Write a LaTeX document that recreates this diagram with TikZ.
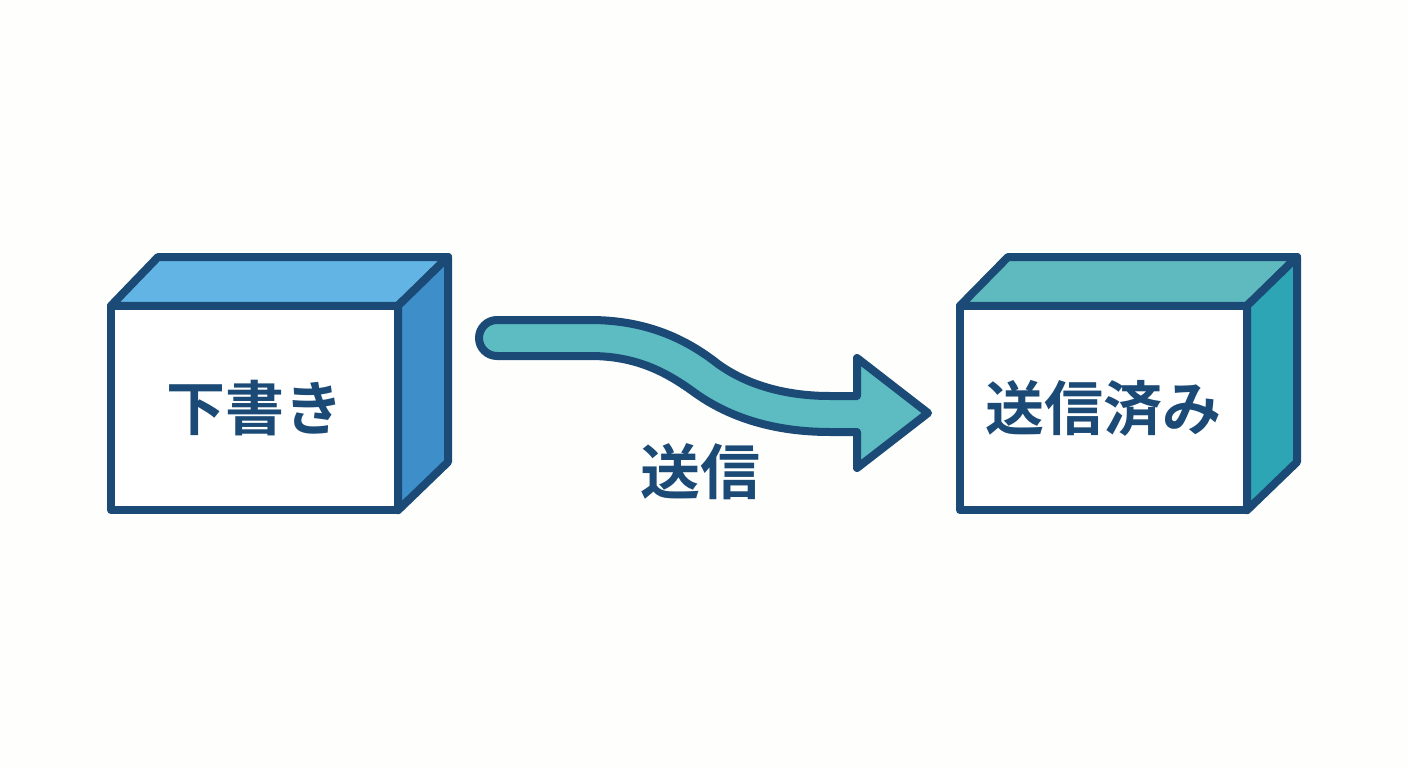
\documentclass[tikz,border=0pt]{standalone}
\usepackage{fontspec}
\newfontfamily\jp{Noto Sans CJK JP Bold}
\definecolor{bgc}{HTML}{FEFEFC}
\definecolor{ink}{HTML}{1A4A75}
\definecolor{bluetop}{HTML}{62B4E4}
\definecolor{blueside}{HTML}{3D8EC9}
\definecolor{tealtop}{HTML}{5FBABF}
\definecolor{tealside}{HTML}{2EA5B5}
\definecolor{arrowfill}{HTML}{5CBCC2}
\tikzset{
  face/.style={draw=ink,line width=8pt,line join=round},
  frontface/.style={face,fill=white,text=ink,inner sep=0pt,outer sep=0pt,minimum height=204.5pt,
     font=\jp\fontsize{59}{60}\selectfont},
  tag/.style={text=ink,inner sep=0pt,font=\jp\fontsize{60}{60}\selectfont}
}
\begin{document}
\begin{tikzpicture}[x=1pt,y=-1pt]
\fill[bgc] (0,0) rectangle (1408,768);
\useasboundingbox (0,0) rectangle (1408,768);
% left box
\node[frontface,minimum width=287pt] (draft) at (254.5,408) {\raisebox{1.5pt}{下書き}};
\draw[face,fill=bluetop] (draft.north west) -- (158,257) -- (448,257) -- (draft.north east) -- cycle;
\draw[face,fill=blueside] (draft.north east) -- (448,257) -- (448,462) -- (draft.south east) -- cycle;
% right box
\node[frontface,minimum width=287pt] (sent) at (1103.5,408) {\raisebox{1pt}{送信済み}};
\draw[face,fill=tealtop] (sent.north west) -- (1008,257) -- (1297,257) -- (sent.north east) -- cycle;
\draw[face,fill=tealside] (sent.north east) -- (1297,257) -- (1297,462) -- (sent.south east) -- cycle;
% block arrow
\draw[face,fill=arrowfill]
  (497,320) -- (590,320)
  .. controls (645,320) and (685,338) .. (718,364)
  .. controls (750,387) and (790,396) .. (830,396)
  -- (857,396) -- (857,358) -- (928,413) -- (857,468) -- (857,432) -- (830,432)
  .. controls (775,432) and (730,418) .. (695,393)
  .. controls (665,371) and (635,356) .. (590,356)
  -- (497,356) arc[start angle=90,end angle=270,radius=18,y=-1pt] -- cycle;
\node[tag] (sendlabel) at (700,472) {送信};
\end{tikzpicture}
\end{document}
